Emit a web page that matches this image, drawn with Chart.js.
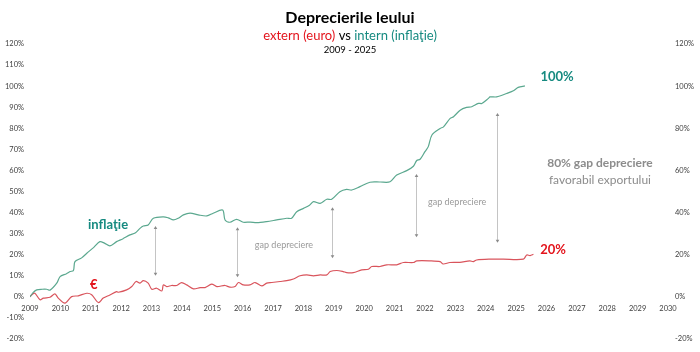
<!DOCTYPE html>
<html>
<head>
<meta charset="utf-8">
<script src="https://cdn.jsdelivr.net/npm/chart.js@4"></script>
<style>
    html, body { margin: 0; padding: 0; background: #fff; }
    #wrap { width: 700px; height: 352px; }
</style>
</head>
<body>
<div id="wrap"><canvas id="chart"></canvas></div>
<script>
// inflation (intern) series, decimal years
const inflYears = [2009.00, 2009.10, 2009.22, 2009.40, 2009.55, 2009.66, 2009.88, 2009.99, 2010.20, 2010.32,
    2010.43, 2010.48, 2010.70, 2010.87, 2011.10, 2011.30, 2011.45, 2011.63, 2011.85, 2012.05,
    2012.29, 2012.46, 2012.62, 2012.73, 2012.89, 2013.06, 2013.39, 2013.55, 2013.72, 2013.88,
    2014.05, 2014.27, 2014.54, 2014.82, 2015.03, 2015.34, 2015.42, 2015.58, 2015.80, 2016.02,
    2016.25, 2016.46, 2016.79, 2017.12, 2017.45, 2017.61, 2017.78, 2018.00, 2018.20, 2018.33,
    2018.55, 2018.77, 2018.93, 2019.20, 2019.42, 2019.59, 2019.86, 2020.19, 2020.52, 2020.85,
    2021.07, 2021.40, 2021.62, 2021.73, 2021.84, 2022.00, 2022.11, 2022.23, 2022.50, 2022.61,
    2022.83, 2022.94, 2023.16, 2023.37, 2023.54, 2023.76, 2023.87, 2024.09, 2024.14, 2024.36,
    2024.69, 2024.91, 2025.07, 2025.29];
const inflValues = [0, 2.0, 3.3, 3.6, 3.6, 3.2, 6.5, 9.6, 11, 12,
    12.5, 16.7, 18.5, 20.7, 23.5, 26.2, 25.5, 24.2, 26.2, 27.5,
    29.4, 30.3, 32.5, 33.6, 34.1, 37.3, 38, 37.5, 36.5, 37.3,
    38.9, 39.7, 38.9, 38.4, 39.7, 41.2, 36.5, 35.4, 36.8, 35.4,
    35.5, 35.2, 35.7, 36.5, 37.3, 37.3, 40.4, 42, 43.5, 45.2,
    44.4, 46.3, 46.3, 49.9, 51, 50.7, 52.3, 54.4, 54.5, 54.6,
    57.8, 59.9, 62, 64.7, 65.3, 68.9, 71.3, 76.8, 79.9, 80.7,
    84.7, 85.5, 88.6, 89.9, 90.2, 91.8, 91.8, 94.2, 94.9, 94.9,
    96.5, 97.8, 99.4, 100.1];

// euro (extern) series
const euroYears = [2009.00, 2009.06, 2009.16, 2009.33, 2009.44, 2009.66, 2009.82, 2009.93, 2010.15, 2010.37,
    2010.59, 2010.87, 2011.03, 2011.25, 2011.41, 2011.63, 2011.85, 2011.91, 2012.18, 2012.35,
    2012.49, 2012.62, 2012.73, 2012.89, 2013.01, 2013.17, 2013.34, 2013.39, 2013.50, 2013.66,
    2013.83, 2013.99, 2014.16, 2014.38, 2014.60, 2014.76, 2014.98, 2015.15, 2015.42, 2015.58,
    2015.75, 2015.86, 2016.02, 2016.24, 2016.41, 2016.63, 2016.79, 2016.96, 2017.23, 2017.45,
    2017.67, 2017.89, 2018.11, 2018.33, 2018.55, 2018.77, 2018.88, 2019.10, 2019.31, 2019.42,
    2019.64, 2019.92, 2020.14, 2020.25, 2020.52, 2020.74, 2021.07, 2021.29, 2021.62, 2021.73,
    2022.17, 2022.50, 2022.60, 2022.82, 2023.15, 2023.48, 2023.59, 2023.70, 2024.14, 2024.58,
    2025.24, 2025.35, 2025.46, 2025.57];
const euroValues = [0, 1.0, 1.7, -1.4, -0.6, -0.2, 1.4, -0.6, -3.0, 0.1,
    0.5, 1.7, 1.0, -2.7, -0.6, 0.9, 2.5, 2.2, 3.3, 4.9,
    7.3, 6.5, 7.7, 6.5, 3.6, 4.1, 2.8, 5.7, 4.9, 5.4,
    5.4, 6.8, 5.7, 3.8, 4.4, 4.4, 6.0, 4.9, 5.4, 4.6,
    4.9, 6.8, 5.7, 5.7, 6.8, 5.2, 6.5, 6.8, 7.3, 7.7,
    8.5, 10.0, 10.4, 10.0, 10.4, 10.4, 12.0, 12.5, 12.0, 11.5,
    11.5, 12.8, 13.1, 14.4, 14.4, 15.2, 15.2, 16.3, 16.3, 17.1,
    17.1, 16.7, 15.6, 16.3, 16.4, 17.1, 16.7, 17.5, 17.9, 17.9,
    17.9, 19.9, 19.6, 20.2];

// gap arrows: year, top value, bottom value
const gapYears = [2013.11, 2015.80, 2018.93, 2021.71, 2024.36];
const gapTops = [33.6, 33.0, 42.5, 58.3, 87.3];
const gapBottoms = [10.0, 9.3, 18.3, 28.3, 25.7];

// axis ranges
const yearMin = 2009, yearMax = 2030;
const pctMin = -20, pctMax = 120;

const GREEN = "#5ba88f";
const TEAL = "#168a80";
const RED_LINE = "#d9545c";
const RED = "#e3141c";
const GREY = "#8c8c8c";

// text labels placed in data coordinates
const notes = [
    { text: "inflaţie", x: 2011.57, y: 34.1, font: "bold 13px Lato", color: TEAL },
    { text: "€", x: 2011.1, y: 5.7, font: "bold 13px Lato", color: RED },
    { text: "100%", x: 2026.35, y: 104.3, font: "bold 13px Lato", color: TEAL },
    { text: "20%", x: 2026.22, y: 22.3, font: "bold 13px Lato", color: RED },
    { text: "80% gap depreciere", x: 2027.76, y: 63.5, font: "bold 12px Lato", color: GREY },
    { text: "favorabil exportului", x: 2027.76, y: 55.3, font: "12px Lato", color: GREY },
    { text: "gap depreciere", x: 2017.36, y: 24.6, font: "9px Lato", color: "#9a9a9a" },
    { text: "gap depreciere", x: 2023.06, y: 45.2, font: "9px Lato", color: "#9a9a9a" }
];

const overlay = {
    id: "overlay",
    afterDatasetsDraw(chart) {
        const { ctx, scales } = chart;
        const x = scales.x, y = scales.y;
        ctx.save();

        // arrows
        ctx.strokeStyle = "#c4c4c4";
        ctx.fillStyle = "#8a8a8a";
        ctx.lineWidth = 1;
        gapYears.forEach((yr, i) => {
            const px = Math.round(x.getPixelForValue(yr)) + 0.5;
            const top = y.getPixelForValue(gapTops[i]);
            const bot = y.getPixelForValue(gapBottoms[i]);
            ctx.beginPath();
            ctx.moveTo(px, top + 2);
            ctx.lineTo(px, bot - 2);
            ctx.stroke();
            ctx.beginPath();
            ctx.moveTo(px, top);
            ctx.lineTo(px - 1.8, top + 3);
            ctx.lineTo(px + 1.8, top + 3);
            ctx.closePath();
            ctx.fill();
            ctx.beginPath();
            ctx.moveTo(px, bot);
            ctx.lineTo(px - 1.8, bot - 3);
            ctx.lineTo(px + 1.8, bot - 3);
            ctx.closePath();
            ctx.fill();
        });

        // notes
        ctx.textAlign = "center";
        ctx.textBaseline = "middle";
        notes.forEach(n => {
            ctx.font = n.font;
            ctx.fillStyle = n.color;
            ctx.fillText(n.text, x.getPixelForValue(n.x), y.getPixelForValue(n.y));
        });

        // header
        const cx = chart.width / 2;
        ctx.fillStyle = "#000";
        ctx.font = "bold 16px Lato";
        ctx.fillText("Deprecierile leului", cx, 18);

        ctx.font = "13px Lato";
        const p1 = "extern (euro)", p2 = " vs ", p3 = "intern (inflaţie)";
        const w1 = ctx.measureText(p1).width, w2 = ctx.measureText(p2).width, w3 = ctx.measureText(p3).width;
        let sx = cx - (w1 + w2 + w3) / 2;
        ctx.textAlign = "left";
        ctx.fillStyle = RED;
        ctx.fillText(p1, sx, 36);
        ctx.fillStyle = "#000";
        ctx.fillText(p2, sx + w1, 36);
        ctx.fillStyle = TEAL;
        ctx.fillText(p3, sx + w1 + w2, 36);

        ctx.textAlign = "center";
        ctx.fillStyle = "#000";
        ctx.font = "9.5px Lato";
        ctx.fillText("2009 - 2025", cx, 50);
        ctx.restore();
    }
};

const tickFont = { family: "Lato", size: 7.5 };

new Chart(document.getElementById("chart"), {
    type: "line",
    data: {
        datasets: [
            {
                label: "inflatie",
                data: inflYears.map((yr, i) => ({ x: yr, y: inflValues[i] })),
                borderColor: GREEN,
                borderWidth: 1.2,
                pointRadius: 0,
                tension: 0.3,
                yAxisID: "y"
            },
            {
                label: "euro",
                data: euroYears.map((yr, i) => ({ x: yr, y: euroValues[i] })),
                borderColor: RED_LINE,
                borderWidth: 1.2,
                pointRadius: 0,
                tension: 0.3,
                yAxisID: "y"
            }
        ]
    },
    options: {
        responsive: true,
        maintainAspectRatio: false,
        animation: false,
        layout: { padding: { top: 44, bottom: 13, left: 0, right: 0 } },
        plugins: {
            legend: { display: false },
            tooltip: { enabled: false }
        },
        scales: {
            x: {
                type: "linear",
                min: yearMin,
                max: yearMax,
                position: { y: 0 },
                grid: { display: false, drawTicks: false },
                border: { display: false },
                ticks: {
                    stepSize: 1,
                    padding: 7,
                    maxRotation: 0,
                    autoSkip: false,
                    color: "#404040",
                    font: tickFont,
                    callback: v => String(v)
                }
            },
            y: {
                type: "linear",
                position: "left",
                min: pctMin,
                max: pctMax,
                grid: { display: false, drawTicks: false },
                border: { display: false },
                afterFit: s => { s.width = 30; },
                ticks: {
                    stepSize: 10,
                    padding: 6,
                    color: "#404040",
                    font: tickFont,
                    callback: v => v + "%"
                }
            },
            y2: {
                type: "linear",
                position: "right",
                min: pctMin,
                max: pctMax,
                grid: { display: false, drawTicks: false },
                border: { display: false },
                afterFit: s => { s.width = 32; },
                ticks: {
                    stepSize: 20,
                    padding: 7,
                    color: "#404040",
                    font: tickFont,
                    callback: v => v + "%"
                }
            }
        }
    },
    plugins: [overlay]
});
</script>
</body>
</html>
